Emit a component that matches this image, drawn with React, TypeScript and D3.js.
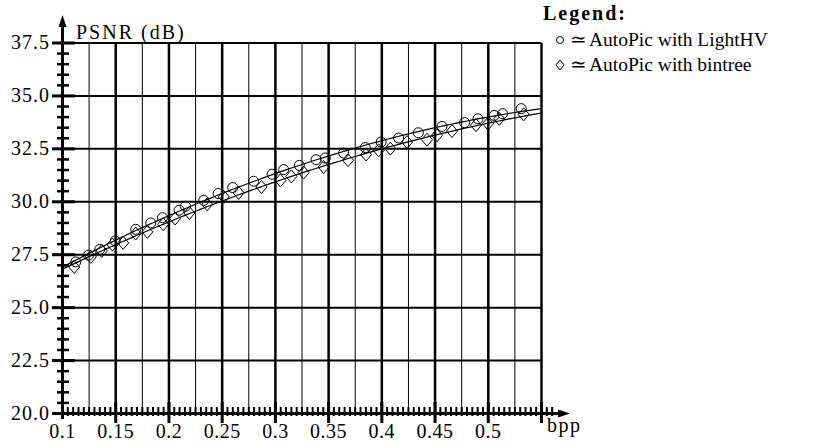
import React, { useEffect, useRef } from "react";
import * as d3 from "d3";

// AutoPic with LightHV (circles)
const lightHVBpp = [0.1125, 0.1244, 0.135, 0.1495, 0.1688, 0.1829, 0.1939, 0.2096, 0.2155, 0.2327, 0.2462, 0.2599, 0.2796, 0.2969, 0.3078, 0.3225, 0.3382, 0.3469, 0.3641, 0.3845, 0.3993, 0.4158, 0.4343, 0.4565, 0.4778, 0.4903, 0.5056, 0.5134, 0.531];
const lightHVPsnr = [27.16, 27.48, 27.75, 28.15, 28.7, 29.0, 29.25, 29.6, 29.79, 30.07, 30.39, 30.67, 30.97, 31.3, 31.52, 31.72, 31.99, 32.07, 32.3, 32.56, 32.82, 33.01, 33.26, 33.56, 33.74, 33.92, 34.08, 34.16, 34.4];

// AutoPic with bintree (diamonds)
const bintreeBpp = [0.111, 0.1266, 0.1369, 0.1469, 0.157, 0.1688, 0.1798, 0.1946, 0.2058, 0.2192, 0.2359, 0.2515, 0.2655, 0.2869, 0.3047, 0.315, 0.3266, 0.3453, 0.3683, 0.3852, 0.397, 0.408, 0.4237, 0.4424, 0.4518, 0.4659, 0.4884, 0.4997, 0.5103, 0.5332];
const bintreePsnr = [26.92, 27.4, 27.68, 27.98, 28.06, 28.5, 28.58, 28.94, 29.21, 29.47, 29.88, 30.23, 30.42, 30.7, 31.01, 31.2, 31.38, 31.64, 31.96, 32.23, 32.43, 32.51, 32.82, 32.93, 33.14, 33.34, 33.62, 33.69, 33.92, 34.13];

const xTickValues = [0.1, 0.15, 0.2, 0.25, 0.3, 0.35, 0.4, 0.45, 0.5];
const xTickLabels = ["0.1", "0.15", "0.2", "0.25", "0.3", "0.35", "0.4", "0.45", "0.5"];
const yTickValues = [20, 22.5, 25, 27.5, 30, 32.5, 35, 37.5];
const yTickLabels = ["20.0", "22.5", "25.0", "27.5", "30.0", "32.5", "35.0", "37.5"];

const legendLabels = ["AutoPic with LightHV", "AutoPic with bintree"];

const FONT = "'Liberation Serif', 'DejaVu Serif', serif";

// least squares quadratic fit, returns f(x)
function fitQuadratic(xs: number[], ys: number[]) {
  const mx = d3.mean(xs) as number;
  let s = [0, 0, 0, 0, 0];
  let t = [0, 0, 0];
  xs.forEach((x0, i) => {
    const x = x0 - mx;
    for (let k = 0; k < 5; k++) s[k] += Math.pow(x, k);
    for (let k = 0; k < 3; k++) t[k] += ys[i] * Math.pow(x, k);
  });
  // solve 3x3 system with cramer
  const m = [
    [s[0], s[1], s[2]],
    [s[1], s[2], s[3]],
    [s[2], s[3], s[4]],
  ];
  const det = (a: number[][]) =>
    a[0][0] * (a[1][1] * a[2][2] - a[1][2] * a[2][1]) -
    a[0][1] * (a[1][0] * a[2][2] - a[1][2] * a[2][0]) +
    a[0][2] * (a[1][0] * a[2][1] - a[1][1] * a[2][0]);
  const D = det(m);
  const coef = [0, 1, 2].map((c) => {
    const mc = m.map((row, r) => row.map((v, j) => (j === c ? t[r] : v)));
    return det(mc) / D;
  });
  return (x: number) => {
    const u = x - mx;
    return coef[0] + coef[1] * u + coef[2] * u * u;
  };
}

function diamondPath(cx: number, cy: number, w: number, h: number) {
  const p = d3.path();
  p.moveTo(cx, cy - h);
  p.lineTo(cx + w, cy);
  p.lineTo(cx, cy + h);
  p.lineTo(cx - w, cy);
  p.closePath();
  return p.toString();
}

function Chart() {
  const ref = useRef<SVGSVGElement>(null);

  useEffect(() => {
    const svg = d3.select(ref.current);
    svg.selectAll("*").remove();

    const x = d3.scaleLinear().domain([0.1, 0.55]).range([62.5, 541.5]);
    const y = d3.scaleLinear().domain([20, 37.5]).range([413.5, 43]);

    // vertical grid
    const vGrid = d3.range(1, 19).map((i) => 0.1 + i * 0.025);
    svg.append("g")
      .selectAll("line")
      .data(vGrid)
      .enter().append("line")
      .attr("x1", (d) => x(d)).attr("x2", (d) => x(d))
      .attr("y1", y(37.5)).attr("y2", y(20))
      .attr("stroke", "#000")
      .attr("stroke-width", (d, i) => (i % 2 === 1 ? 2.5 : 1));

    // horizontal grid
    svg.append("g")
      .selectAll("line")
      .data(yTickValues.slice(1))
      .enter().append("line")
      .attr("x1", x(0.1)).attr("x2", x(0.55))
      .attr("y1", (d) => y(d)).attr("y2", (d) => y(d))
      .attr("stroke", "#000")
      .attr("stroke-width", 2);

    // y minor/major ticks
    const yMinor = d3.range(1, 35).map((i) => 20 + i * 0.5).filter((v) => Math.abs(v / 2.5 - Math.round(v / 2.5)) > 1e-6);
    svg.append("g")
      .selectAll("line")
      .data(yMinor)
      .enter().append("line")
      .attr("x1", 57).attr("x2", 69)
      .attr("y1", (d) => y(d)).attr("y2", (d) => y(d))
      .attr("stroke", "#000").attr("stroke-width", 2.5);
    svg.append("g")
      .selectAll("line")
      .data(yTickValues)
      .enter().append("line")
      .attr("x1", 52).attr("x2", 75)
      .attr("y1", (d) => y(d)).attr("y2", (d) => y(d))
      .attr("stroke", "#000").attr("stroke-width", 3);

    // x minor/major ticks
    const xMinor = d3.range(1, 93).map((i) => 0.1 + i * 0.005).filter((v) => Math.abs(v / 0.05 - Math.round(v / 0.05)) > 1e-6);
    svg.append("g")
      .selectAll("line")
      .data(xMinor)
      .enter().append("line")
      .attr("x1", (d) => x(d)).attr("x2", (d) => x(d))
      .attr("y1", 407).attr("y2", 416)
      .attr("stroke", "#000").attr("stroke-width", 2);
    svg.append("g")
      .selectAll("line")
      .data(d3.range(1, 10).map((i) => 0.1 + i * 0.05))
      .enter().append("line")
      .attr("x1", (d) => x(d)).attr("x2", (d) => x(d))
      .attr("y1", 402).attr("y2", 423)
      .attr("stroke", "#000").attr("stroke-width", 3);

    // axes with arrows
    svg.append("line")
      .attr("x1", 52).attr("x2", 562)
      .attr("y1", y(20)).attr("y2", y(20))
      .attr("stroke", "#000").attr("stroke-width", 3);
    svg.append("path")
      .attr("d", "M570," + y(20) + " L558," + (y(20) - 4) + " L558," + (y(20) + 4) + " Z")
      .attr("fill", "#000");
    svg.append("line")
      .attr("x1", x(0.1)).attr("x2", x(0.1))
      .attr("y1", 419).attr("y2", 24)
      .attr("stroke", "#000").attr("stroke-width", 3);
    svg.append("path")
      .attr("d", "M" + x(0.1) + ",15 L" + (x(0.1) - 4) + ",27 L" + (x(0.1) + 4) + ",27 Z")
      .attr("fill", "#000");

    // tick labels
    svg.append("g")
      .selectAll("text")
      .data(xTickValues)
      .enter().append("text")
      .attr("x", (d) => x(d)).attr("y", 438)
      .attr("text-anchor", "middle")
      .attr("font-family", FONT).attr("font-size", 20)
      .attr("letter-spacing", 0.5)
      .text((d, i) => xTickLabels[i]);
    svg.append("g")
      .selectAll("text")
      .data(yTickValues)
      .enter().append("text")
      .attr("x", 50).attr("y", (d) => y(d) + 6)
      .attr("text-anchor", "end")
      .attr("font-family", FONT).attr("font-size", 20)
      .attr("letter-spacing", 1)
      .text((d, i) => yTickLabels[i]);

    svg.append("text")
      .attr("x", 76).attr("y", 39)
      .attr("font-family", FONT).attr("font-size", 20)
      .attr("letter-spacing", 2)
      .text("PSNR (dB)");
    svg.append("text")
      .attr("x", 547).attr("y", 432)
      .attr("font-family", FONT).attr("font-size", 20)
      .attr("letter-spacing", 1.5)
      .text("bpp");

    // fitted curves
    const xs = d3.range(0, 91).map((i) => 0.1 + i * 0.005);
    const line = d3.line<number>().x((d) => x(d)).curve(d3.curveLinear);
    const fitA = fitQuadratic(lightHVBpp, lightHVPsnr);
    const fitB = fitQuadratic(bintreeBpp, bintreePsnr);
    svg.append("path")
      .attr("d", line.y((d) => y(fitA(d)))(xs))
      .attr("fill", "none").attr("stroke", "#000").attr("stroke-width", 1.2);
    svg.append("path")
      .attr("d", line.y((d) => y(fitB(d)))(xs))
      .attr("fill", "none").attr("stroke", "#000").attr("stroke-width", 1.2);

    // markers
    svg.append("g")
      .selectAll("circle")
      .data(lightHVBpp)
      .enter().append("circle")
      .attr("cx", (d) => x(d))
      .attr("cy", (d, i) => y(lightHVPsnr[i]))
      .attr("r", 5)
      .attr("fill", "none").attr("stroke", "#000").attr("stroke-width", 1);
    svg.append("g")
      .selectAll("path")
      .data(bintreeBpp)
      .enter().append("path")
      .attr("d", (d, i) => diamondPath(x(d), y(bintreePsnr[i]), 5.5, 6.5))
      .attr("fill", "none").attr("stroke", "#000").attr("stroke-width", 1);

    // legend
    svg.append("text")
      .attr("x", 543).attr("y", 20)
      .attr("font-family", FONT).attr("font-size", 20).attr("font-weight", "bold")
      .attr("letter-spacing", 2)
      .text("Legend:");
    const rows = svg.append("g")
      .selectAll("g")
      .data(legendLabels)
      .enter().append("g")
      .attr("transform", (d, i) => "translate(0," + (46 + i * 25) + ")");
    rows.filter((d, i) => i === 0).append("circle")
      .attr("cx", 560).attr("cy", -6).attr("r", 3.5)
      .attr("fill", "none").attr("stroke", "#000").attr("stroke-width", 1);
    rows.filter((d, i) => i === 1).append("path")
      .attr("d", diamondPath(560, -6, 4, 5))
      .attr("fill", "none").attr("stroke", "#000").attr("stroke-width", 1);
    rows.append("text")
      .attr("x", 570)
      .attr("font-family", FONT).attr("font-size", 20)
      .text("≃");
    rows.append("text")
      .attr("x", 589)
      .attr("font-family", FONT).attr("font-size", 19.5)
      .text((d) => d);
  }, []);

  return <svg ref={ref} width={839} height={445} style={{ display: "block", background: "#fff" }}></svg>;
}

export default function App() {
  return (
    <div>
      <style>{"body{margin:0}"}</style>
      <Chart />
    </div>
  );
}
